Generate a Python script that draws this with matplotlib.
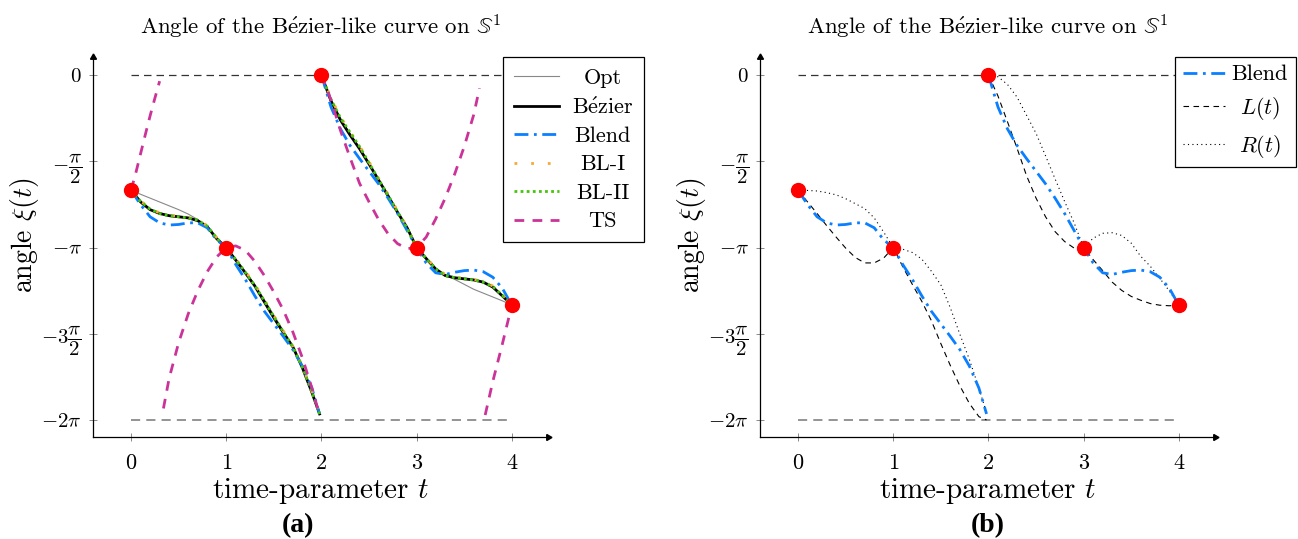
import numpy as np
import matplotlib
matplotlib.use("Agg")
import matplotlib.pyplot as plt
from matplotlib.lines import Line2D

plt.rcParams['font.family'] = ['cmr10', 'DejaVu Serif']
plt.rcParams['mathtext.fontset'] = 'cm'
plt.rcParams['axes.unicode_minus'] = False
plt.rcParams['axes.formatter.use_mathtext'] = True

PI = np.pi

# ---------------- data ----------------
T1 = [0.0, 0.1, 0.2, 0.3, 0.4, 0.5, 0.6, 0.7, 0.8, 0.9, 1.0,
      1.1, 1.2, 1.3, 1.4, 1.5, 1.6, 1.7, 1.8, 1.9, 1.98]
T2 = [2.0, 2.1, 2.2, 2.3, 2.4, 2.5, 2.6, 2.7, 2.8, 2.9, 3.0,
      3.1, 3.2, 3.3, 3.4, 3.5, 3.6, 3.7, 3.8, 3.9, 4.0]

opt_1 = [-2.094, -2.17, -2.24, -2.31, -2.38, -2.45, -2.53, -2.63, -2.76, -2.96, -3.142,
         -3.36, -3.58, -3.82, -4.09, -4.37, -4.66, -4.95, -5.31, -5.74, -6.15]
opt_2 = [0.0, -0.44, -0.79, -1.06, -1.33, -1.62, -1.91, -2.20, -2.49, -2.78, -3.142,
         -3.34, -3.52, -3.64, -3.72, -3.81, -3.90, -3.97, -4.04, -4.11, -4.189]

bezier_1 = [-2.094, -2.31, -2.45, -2.52, -2.56, -2.58, -2.60, -2.65, -2.76, -2.98, -3.142,
            -3.37, -3.60, -3.84, -4.13, -4.42, -4.69, -4.95, -5.33, -5.78, -6.17]
bezier_2 = [0.0, -0.47, -0.82, -1.09, -1.34, -1.62, -1.91, -2.20, -2.50, -2.78, -3.142,
            -3.34, -3.53, -3.65, -3.69, -3.71, -3.73, -3.77, -3.86, -4.02, -4.189]

blend_1 = [-2.094, -2.36, -2.58, -2.69, -2.73, -2.72, -2.69, -2.69, -2.78, -3.00, -3.142,
           -3.45, -3.72, -4.02, -4.30, -4.53, -4.76, -5.00, -5.30, -5.70, -6.17]
blend_2 = [0.0, -0.58, -0.98, -1.28, -1.52, -1.75, -1.98, -2.24, -2.52, -2.83, -3.142,
           -3.42, -3.60, -3.63, -3.59, -3.56, -3.55, -3.58, -3.68, -3.88, -4.189]

bl1_1 = [-2.094, -2.29, -2.43, -2.51, -2.55, -2.57, -2.59, -2.64, -2.74, -2.96, -3.142,
         -3.35, -3.57, -3.81, -4.09, -4.38, -4.66, -4.94, -5.30, -5.76, -6.16]
bl1_2 = [0.0, -0.42, -0.76, -1.03, -1.29, -1.58, -1.88, -2.17, -2.47, -2.77, -3.142,
         -3.33, -3.51, -3.63, -3.68, -3.70, -3.72, -3.76, -3.84, -4.00, -4.189]

bl2_1 = [-2.094, -2.30, -2.44, -2.52, -2.56, -2.58, -2.60, -2.64, -2.75, -2.97, -3.142,
         -3.36, -3.59, -3.83, -4.11, -4.40, -4.68, -4.95, -5.32, -5.77, -6.17]
bl2_2 = [0.0, -0.44, -0.78, -1.04, -1.30, -1.60, -1.90, -2.19, -2.49, -2.79, -3.142,
         -3.34, -3.53, -3.65, -3.69, -3.71, -3.73, -3.77, -3.85, -4.01, -4.189]

# TS pieces (angle wraps at 0 / -2pi)
ts_a_t = [0.0, 0.05, 0.10, 0.15, 0.20, 0.25, 0.30]
ts_a = [-2.094, -1.78, -1.43, -1.08, -0.74, -0.42, -0.11]
ts_b_t = [0.34, 0.4, 0.5, 0.6, 0.7, 0.8, 0.9, 1.0, 1.1, 1.2, 1.3, 1.4, 1.5, 1.6, 1.7, 1.8, 1.9, 1.96]
ts_b = [-6.07, -5.52, -4.87, -4.35, -3.93, -3.58, -3.31, -3.142, -3.11, -3.19, -3.39, -3.65,
        -3.95, -4.28, -4.68, -5.15, -5.70, -6.07]
ts_c_t = [2.0, 2.1, 2.2, 2.3, 2.4, 2.5, 2.6, 2.7, 2.8, 2.9, 3.0, 3.1, 3.2, 3.3, 3.4, 3.5, 3.6, 3.66]
ts_c = [0.0, -0.45, -1.01, -1.50, -1.97, -2.31, -2.63, -2.89, -3.07, -3.16, -3.142, -2.95,
        -2.62, -2.24, -1.80, -1.30, -0.72, -0.24]
ts_d_t = [3.72, 3.8, 3.9, 4.0]
ts_d = [-6.19, -5.58, -4.90, -4.189]

left_1 = [-2.094, -2.31, -2.52, -2.74, -2.95, -3.15, -3.32, -3.42, -3.42, -3.33, -3.142,
          -3.49, -3.81, -4.12, -4.47, -4.89, -5.29, -5.66, -5.98, -6.22, -6.28]
left_2 = [0.0, -0.38, -0.85, -1.33, -1.83, -2.24, -2.58, -2.85, -3.03, -3.15, -3.142,
          -3.36, -3.56, -3.77, -3.92, -4.03, -4.10, -4.16, -4.19, -4.20, -4.189]

right_1 = [-2.094, -2.10, -2.11, -2.14, -2.18, -2.25, -2.34, -2.43, -2.60, -2.86, -3.142,
           -3.17, -3.23, -3.35, -3.57, -3.82, -4.24, -4.72, -5.18, -5.70, -6.15]
right_2 = [0.0, -0.03, -0.17, -0.40, -0.73, -1.06, -1.47, -1.89, -2.30, -2.69, -3.142,
           -2.97, -2.88, -2.87, -2.92, -3.06, -3.30, -3.48, -3.70, -3.93, -4.189]

ctrl_t = [0, 1, 2, 3, 4]
ctrl_y = [-2 * PI / 3, -PI, 0.0, -PI, -4 * PI / 3]

ytick_vals = [0, -PI / 2, -PI, -3 * PI / 2, -2 * PI]
ytick_labels = [r'$0$', r'$-\dfrac{\pi}{2}$', r'$-\pi$', r'$-3\dfrac{\pi}{2}$', r'$-2\pi$']
xtick_vals = [0, 1, 2, 3, 4]

legend_a = ['Opt', r'B$\acute{\mathrm{e}}$zier', 'Blend', 'BL-I', 'BL-II', 'TS']
legend_b = ['Blend', r'$L(t)$', r'$R(t)$']
title_txt = r'Angle of the B$\acute{\mathrm{e}}$zier-like curve on $\mathbb{S}^1$'

# ---------------- styles ----------------
C_BLEND = '#0a7fff'
C_BL1 = '#f7a838'
C_BL2 = '#44c40a'
C_TS = '#cc3399'
DASH_BLEND = (5, 2, 1, 2)
DASH_BL1 = (1, 5)
DASH_BL2 = (1, 1.2)
DASH_TS = (3.5, 3)

fig = plt.figure(figsize=(12.98, 5.39), dpi=100)
W, H = 1298, 539


def make_axes(left_px):
    ax = fig.add_axes([left_px / W, (H - 437) / H, 455 / W, 380 / H])
    ax.set_xlim(-0.4, 4.38)
    ax.set_ylim(-6.59, 0.33)
    for s in ['top', 'right']:
        ax.spines[s].set_visible(False)
    for s in ['left', 'bottom']:
        ax.spines[s].set_linewidth(0.9)
    ax.plot(1, 0, marker=(3, 0, -90), ms=5, color='k', transform=ax.transAxes, clip_on=False)
    ax.plot(0, 1, marker=(3, 0, 0), ms=5, color='k', transform=ax.transAxes, clip_on=False)
    ax.set_xticks(xtick_vals)
    ax.set_xticklabels([f'${v}$' for v in xtick_vals])
    ax.set_yticks(ytick_vals)
    ax.set_yticklabels(ytick_labels)
    ax.tick_params(direction='inout', length=6, width=0.6, color='#777777', pad=5)
    ax.tick_params(axis='x', labelsize=16, pad=9)
    ax.tick_params(axis='y', labelsize=15)
    ax.set_title(title_txt, fontsize=16.5, pad=16)
    ax.set_xlabel(r'time-parameter $t$', fontsize=21, labelpad=2)
    ax.set_ylabel(r'angle $\xi(t)$', fontsize=20)
    ax.yaxis.set_label_coords(-0.114, 0.53)
    ax.plot([0, 4], [0, 0], color='#333333', lw=0.9, dashes=(6, 4))
    ax.plot([0, 4], [-2 * PI, -2 * PI], color='#777777', lw=1.1, dashes=(6, 4))
    return ax


def center_legend_text(leg):
    renderer = fig.canvas.get_renderer()
    texts = leg.get_texts()
    widths = [t.get_window_extent(renderer).width for t in texts]
    wmax = max(widths)
    for t, w in zip(texts, widths):
        t.set_ha('left')
        t.set_position(((wmax - w) / 2, 0))


# ---------------- panel (a) ----------------
ax = make_axes(93)
ax.plot(T1, opt_1, color='#888888', lw=0.8)
ax.plot(T2, opt_2, color='#888888', lw=0.8)
ax.plot(T1, bezier_1, color='black', lw=2.0)
ax.plot(T2, bezier_2, color='black', lw=2.0)
ax.plot(T1, blend_1, color=C_BLEND, lw=2.0, dashes=DASH_BLEND)
ax.plot(T2, blend_2, color=C_BLEND, lw=2.0, dashes=DASH_BLEND)
ax.plot(T1, bl1_1, color=C_BL1, lw=2.0, dashes=DASH_BL1)
ax.plot(T2, bl1_2, color=C_BL1, lw=2.0, dashes=DASH_BL1)
ax.plot(T1, bl2_1, color=C_BL2, lw=2.0, dashes=DASH_BL2)
ax.plot(T2, bl2_2, color=C_BL2, lw=2.0, dashes=DASH_BL2)
for tt, yy in [(ts_a_t, ts_a), (ts_b_t, ts_b), (ts_c_t, ts_c), (ts_d_t, ts_d)]:
    ax.plot(tt, yy, color=C_TS, lw=2.0, dashes=DASH_TS)
ax.plot(ctrl_t, ctrl_y, 'o', color='red', ms=10, zorder=5, clip_on=False)

handles_a = [
    Line2D([], [], color='#888888', lw=0.8),
    Line2D([], [], color='black', lw=2.0),
    Line2D([], [], color=C_BLEND, lw=2.0, dashes=DASH_BLEND),
    Line2D([], [], color=C_BL1, lw=2.0, dashes=DASH_BL1),
    Line2D([], [], color=C_BL2, lw=2.0, dashes=DASH_BL2),
    Line2D([], [], color=C_TS, lw=2.0, dashes=DASH_TS),
]
leg = ax.legend(handles_a, legend_a,
                loc='upper left', bbox_to_anchor=((503 - 93) / 455, 1.0),
                fancybox=False, edgecolor='black', framealpha=1, fontsize=16,
                handlelength=2.0, borderpad=0.5, labelspacing=0.40, handletextpad=0.6,
                borderaxespad=0)
leg.get_frame().set_linewidth(0.9)
center_legend_text(leg)

ax.text(0.45, -0.232, '(a)', transform=ax.transAxes, ha='center', va='center',
        fontsize=20, fontweight='bold', family='Liberation Serif')

# ---------------- panel (b) ----------------
bx = make_axes(760)
bx.plot(T1, left_1, color='black', lw=0.8, dashes=(5, 4))
bx.plot(T2, left_2, color='black', lw=0.8, dashes=(5, 4))
bx.plot(T1, right_1, color='black', lw=0.8, dashes=(1, 3))
bx.plot(T2, right_2, color='black', lw=0.8, dashes=(1, 3))
bx.plot(T1, blend_1, color=C_BLEND, lw=2.0, dashes=DASH_BLEND)
bx.plot(T2, blend_2, color=C_BLEND, lw=2.0, dashes=DASH_BLEND)
bx.plot(ctrl_t, ctrl_y, 'o', color='red', ms=10, zorder=5, clip_on=False)

handles_b = [
    Line2D([], [], color=C_BLEND, lw=2.0, dashes=DASH_BLEND),
    Line2D([], [], color='black', lw=0.8, dashes=(5, 4)),
    Line2D([], [], color='black', lw=0.8, dashes=(1, 3)),
]
leg2 = bx.legend(handles_b, legend_b,
                 loc='upper left', bbox_to_anchor=((1175 - 760) / 455, 1.0),
                 fancybox=False, edgecolor='black', framealpha=1, fontsize=16,
                 handlelength=1.9, borderpad=0.35, labelspacing=0.48, handletextpad=0.3,
                 borderaxespad=0)
leg2.get_frame().set_linewidth(0.9)
center_legend_text(leg2)

bx.text(0.50, -0.232, '(b)', transform=bx.transAxes, ha='center', va='center',
        fontsize=20, fontweight='bold', family='Liberation Serif')

fig.savefig('out.png', dpi=100)
